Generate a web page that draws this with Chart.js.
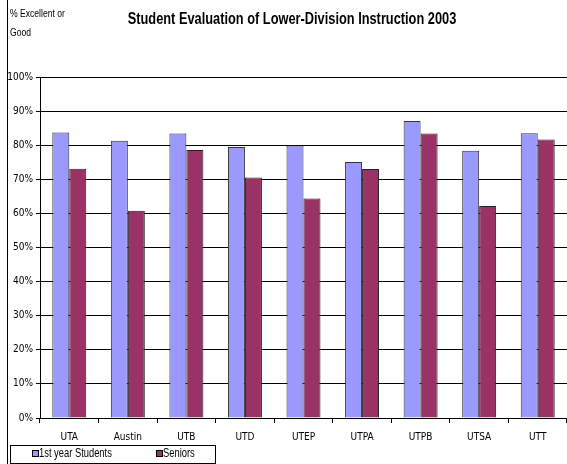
<!DOCTYPE html>
<html>
<head>
<meta charset="utf-8">
<script src="https://cdn.jsdelivr.net/npm/chart.js@4"></script>
<style>
  html, body { margin: 0; padding: 0; background: #fff; }
  #wrap { width: 567px; height: 464px; position: relative; }
</style>
</head>
<body>
<div id="wrap"><canvas id="myChart" width="567" height="464"></canvas></div>
<script>
// data
const categories = ["UTA", "Austin", "UTB", "UTD", "UTEP", "UTPA", "UTPB", "UTSA", "UTT"];
const firstYear = [83.7, 81.3, 83.4, 79.5, 79.9, 75.1, 87.1, 78.4, 83.5];
const seniors = [73.1, 60.8, 78.6, 70.5, 64.4, 73.0, 83.4, 62.2, 81.7];
const yMin = 0, yMax = 100, yStep = 10;

const FONT = "'DejaVu Sans Condensed', 'Liberation Sans', sans-serif";
const NARROW = "'Liberation Sans', Arial, sans-serif";

// text squeezed sideways, arial narrow is not installed
function narrowText(ctx, txt, x, y, font, squeeze) {
  ctx.save();
  ctx.font = font;
  ctx.translate(x, y);
  ctx.scale(squeeze, 1);
  ctx.fillText(txt, 0, 0);
  ctx.restore();
}

// title, axis caption, outer frame and legend
const decor = {
  id: "decor",
  afterDraw(c) {
    const ctx = c.ctx;
    ctx.save();
    ctx.strokeStyle = "#000";
    ctx.lineWidth = 1;
    ctx.beginPath();
    ctx.moveTo(7.5, 0);
    ctx.lineTo(7.5, 464);
    ctx.stroke();

    ctx.fillStyle = "#000";
    ctx.textBaseline = "middle";
    ctx.textAlign = "center";
    narrowText(ctx, "Student Evaluation of Lower-Division Instruction 2003", 292, 20, "bold 16px " + NARROW, 0.8);

    ctx.textAlign = "left";
    narrowText(ctx, "% Excellent or", 10, 14, "11px " + NARROW, 0.78);
    narrowText(ctx, "Good", 10, 33, "11px " + NARROW, 0.78);

    // legend box
    ctx.strokeRect(10.5, 445.5, 205, 18);
    const items = [
      { label: c.data.datasets[0].label, color: c.data.datasets[0].backgroundColor, x: 32 },
      { label: c.data.datasets[1].label, color: c.data.datasets[1].backgroundColor, x: 156 },
    ];
    items.forEach((it) => {
      ctx.fillStyle = it.color;
      ctx.fillRect(it.x, 450, 6, 6);
      ctx.strokeRect(it.x + 0.5, 450.5, 6, 6);
      ctx.fillStyle = "#000";
      narrowText(ctx, it.label, it.x + 7, 454, "12px " + NARROW, 0.78);
    });
    ctx.restore();
  }
};

new Chart(document.getElementById("myChart"), {
  type: "bar",
  data: {
    labels: categories,
    datasets: [
      {
        label: "1st year Students",
        data: firstYear,
        backgroundColor: "#9999ff",
        borderColor: "#333",
        borderWidth: 1,
      },
      {
        label: "Seniors",
        data: seniors,
        backgroundColor: "#993366",
        borderColor: "#222",
        borderWidth: 1,
      },
    ],
  },
  options: {
    responsive: false,
    animation: false,
    layout: { padding: { top: 77, left: 0, right: 0, bottom: 19 } },
    datasets: { bar: { categoryPercentage: 0.58, barPercentage: 1 } },
    plugins: {
      title: { display: false },
      tooltip: { enabled: false },
      legend: { display: false },
    },
    scales: {
      x: {
        grid: { offset: true, drawOnChartArea: false, drawTicks: true, tickLength: 5, color: "#000" },
        border: { color: "#000" },
        ticks: { color: "#000", font: { family: FONT, size: 10 }, padding: 8, maxRotation: 0 },
        afterFit(s) { s.height = 27; },
      },
      y: {
        min: yMin,
        max: yMax,
        grid: { color: "#000", tickLength: 4 },
        border: { color: "#000" },
        ticks: {
          stepSize: yStep,
          color: "#000",
          font: { family: FONT, size: 10 },
          padding: 3,
          callback: (v) => v + "%",
        },
        afterFit(s) { s.width = 40; },
      },
    },
  },
  plugins: [decor],
});
</script>
</body>
</html>
